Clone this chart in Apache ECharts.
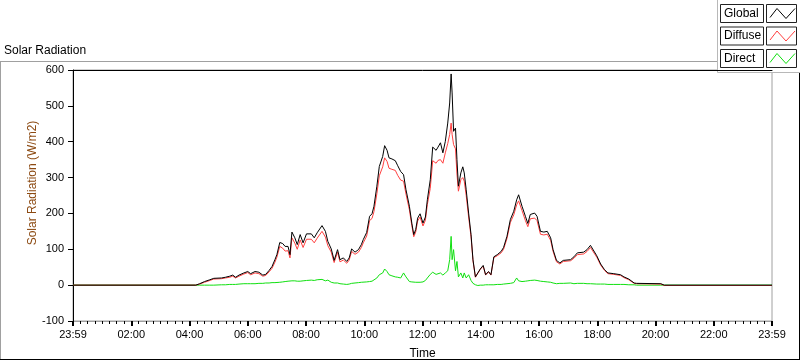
<!DOCTYPE html>
<html>
<head>
    <meta charset="utf-8">
    <style>
        body{
            margin:0;
            padding:0;
            background:#fff;
        }
        #chart{
            width:800px;
            height:361px;
        }
    </style>
</head>
<body>
    <div id="chart"></div>
    <script src="https://cdn.jsdelivr.net/npm/echarts@6/dist/echarts.min.js"></script>
    <script>
        // minutes after midnight
        var times = [0, 253, 261, 271, 282, 290, 306, 314, 323, 329, 335, 342, 352, 360, 366, 375, 383, 391, 397, 404,
            410, 416, 420, 426, 432, 437, 443, 447, 451, 457, 462, 468, 474, 481, 491, 497, 503, 513, 516, 520,
            525, 532, 538, 545, 550, 557, 564, 569, 574, 581, 588, 594, 598, 605, 611, 616, 620, 626, 631, 638,
            642, 647, 651, 657, 664, 669, 675, 681, 686, 693, 698, 702, 706, 710, 715, 721, 726, 730, 736, 741,
            745, 748, 752, 757, 762, 767, 772, 776, 779, 781, 784, 788, 791, 794, 799, 803, 806, 810, 815, 820,
            824, 829, 834, 839, 845, 850, 856, 861, 867, 874, 882, 887, 894, 901, 908, 914, 918, 925, 932, 937,
            942, 951, 956, 963, 970, 977, 984, 989, 996, 1003, 1010, 1025, 1032, 1039, 1052, 1059, 1066, 1070, 1079, 1087,
            1095, 1102, 1114, 1128, 1135, 1145, 1156, 1161, 1211, 1218, 1440];
        var globalVals = [0, 0, 4, 10, 15, 19, 20, 22, 25, 28, 22, 28, 34, 38, 32, 38, 36, 28, 30, 41,
            52, 71, 85, 119, 116, 108, 108, 85, 148, 132, 113, 141, 118, 143, 143, 132, 146, 166, 171, 150,
            122, 101, 69, 99, 71, 76, 66, 76, 101, 92, 99, 113, 127, 147, 192, 199, 220, 276, 331, 359,
            389, 376, 355, 352, 347, 333, 317, 308, 266, 220, 173, 141, 155, 187, 199, 173, 190, 238, 294, 385,
            389, 376, 385, 397, 369, 401, 452, 508, 589, 536, 429, 438, 350, 276, 313, 330, 313, 266, 201, 141,
            71, 23, 34, 45, 55, 29, 38, 29, 79, 85, 94, 105, 136, 183, 206, 238, 252, 220, 192, 172,
            197, 201, 192, 150, 148, 150, 132, 99, 69, 62, 69, 71, 79, 90, 92, 99, 111, 110, 82, 59,
            43, 34, 32, 29, 23, 17, 6, 5, 4, 0, 0];
        var diffuseVals = [0, 0, 3, 8, 13, 17, 18, 20, 22, 25, 20, 25, 31, 35, 29, 34, 32, 25, 27, 37,
            47, 64, 78, 108, 103, 95, 96, 76, 132, 117, 100, 126, 105, 128, 128, 118, 131, 150, 155, 134,
            110, 92, 63, 92, 65, 70, 61, 70, 94, 86, 92, 105, 118, 137, 180, 186, 205, 255, 305, 330,
            355, 345, 326, 323, 320, 306, 293, 290, 254, 210, 166, 135, 148, 179, 190, 165, 181, 225, 270, 347,
            350, 340, 348, 350, 340, 369, 395, 420, 452, 420, 392, 380, 310, 262, 294, 300, 290, 250, 190, 135,
            68, 22, 33, 44, 53, 28, 37, 28, 77, 82, 90, 100, 130, 175, 196, 224, 235, 208, 180, 163,
            185, 187, 180, 142, 140, 142, 125, 94, 65, 59, 66, 68, 75, 85, 87, 94, 105, 104, 78, 56,
            41, 32, 30, 27, 21, 15, 5, 4, 3, -1, -1];
        var directVals = [0, 0, 0, 0, 0, 0, 1, 1, 2, 2, 2, 3, 4, 4, 4, 4, 5, 5, 6, 6,
            7, 7, 8, 8, 9, 10, 11, 10, 12, 12, 11, 11, 12, 13, 14, 13, 15, 16, 18, 12,
            14, 8, 6, 6, 4, 3, 2, 3, 5, 6, 7, 8, 9, 9, 10, 11, 13, 20, 29, 34,
            45, 38, 29, 26, 23, 22, 20, 34, 23, 10, 9, 8, 8, 8, 8, 9, 13, 20, 30, 36,
            34, 30, 32, 34, 28, 34, 40, 71, 136, 71, 99, 40, 66, 23, 34, 20, 34, 20, 29, 13,
            5, 1, -1, 0, 0, 1, 1, 1, 1, 2, 2, 3, 4, 5, 7, 20, 12, 10, 11, 12,
            13, 14, 13, 11, 10, 9, 8, 6, 4, 5, 5, 6, 4, 5, 5, 4, 4, 4, 3, 3,
            3, 2, 2, 2, 2, 1, 1, 0, 0, 0, 0];
        var seriesNames = ['Global', 'Diffuse', 'Direct'];
        var seriesColors = ['#000000', '#ff4040', '#10e010'];
    </script>
    <script>
        var chart = echarts.init(document.getElementById('chart'), null, {renderer: 'canvas'});
        var font = "'Liberation Sans', Arial, sans-serif";

        function pairs(vals){
            var out = [];
            for (var i = 0; i < times.length; i++) {
                out.push([times[i], vals[i]]);
            }
            return out;
        }

        function hhmm(v){
            if (v === 0 || v === 1440) return '23:59';
            var h = Math.floor(v / 60);
            return (h < 10 ? '0' : '') + h + ':00';
        }

        // legend box drawn like the LabVIEW plot legend
        var legendItems = [];
        for (var k = 0; k < seriesNames.length; k++) {
            var y0 = 4.5 + k * 22.5;
            legendItems.push({
                type: 'rect',
                shape: {x: 720.5, y: y0, width: 43, height: 18},
                style: {fill: '#fff', stroke: '#222', lineWidth: 1}
            });
            legendItems.push({
                type: 'text',
                style: {x: 724, y: y0 + 9, text: seriesNames[k], font: '12px ' + font,
                    fill: '#000', verticalAlign: 'middle'}
            });
            legendItems.push({
                type: 'rect',
                shape: {x: 766.5, y: y0, width: 30, height: 18},
                style: {fill: '#fff', stroke: '#222', lineWidth: 1}
            });
            legendItems.push({
                type: 'polyline',
                shape: {points: [[770, y0 + 13], [777, y0 + 4], [786, y0 + 14], [795, y0 + 4]]},
                style: {stroke: seriesColors[k], lineWidth: 1, fill: null}
            });
        }

        var option = {
            animation: false,
            backgroundColor: '#fff',
            title: {
                text: 'Solar Radiation',
                left: 4,
                top: 45,
                padding: 0,
                textStyle: {fontSize: 12, fontWeight: 'normal', color: '#000', fontFamily: font}
            },
            grid: {
                left: 73,
                right: 28,
                top: 70,
                bottom: 40,
                outerBoundsMode: 'none',
                containLabel: false,
                show: true,
                borderColor: '#a0a0a0',
                borderWidth: 1,
                backgroundColor: '#fff'
            },
            xAxis: [{
                type: 'value',
                min: 0,
                max: 1440,
                interval: 120,
                name: 'Time',
                nameLocation: 'middle',
                nameGap: 27,
                nameTextStyle: {fontSize: 12, color: '#000', fontFamily: font},
                axisLine: {show: true, onZero: false, lineStyle: {color: '#a0a0a0'}},
                axisTick: {show: true, length: 5, lineStyle: {color: '#000', width: 2}},
                minorTick: {show: true, splitNumber: 8, length: 3, lineStyle: {color: '#000'}},
                axisLabel: {
                    fontSize: 11, color: '#000', fontFamily: font, margin: 8,
                    formatter: hhmm
                },
                splitLine: {show: false}
            }, {
                type: 'value',
                position: 'top',
                min: 0,
                max: 1440,
                axisLine: {show: true, onZero: false, lineStyle: {color: '#000'}},
                axisTick: {show: false},
                axisLabel: {show: false},
                splitLine: {show: false}
            }],
            yAxis: {
                type: 'value',
                min: -100,
                max: 600,
                interval: 100,
                axisLine: {show: true, onZero: false, lineStyle: {color: '#000'}},
                axisTick: {show: true, length: 5, lineStyle: {color: '#000'}},
                axisLabel: {fontSize: 11, color: '#000', fontFamily: font, margin: 9},
                splitLine: {show: false}
            },
            graphic: [
                {type: 'line', shape: {x1: 0, y1: 61.5, x2: 720, y2: 61.5}, style: {stroke: '#a0a0a0'}},
                {type: 'line', shape: {x1: 0.5, y1: 61.5, x2: 0.5, y2: 360}, style: {stroke: '#a0a0a0'}},
                {type: 'line', shape: {x1: 0, y1: 359.5, x2: 800, y2: 359.5}, style: {stroke: '#000'}},
                {type: 'line', shape: {x1: 799.5, y1: 72, x2: 799.5, y2: 360}, style: {stroke: '#000'}},
                {
                    type: 'text',
                    x: 33, y: 183,
                    rotation: Math.PI / 2,
                    style: {text: 'Solar Radiation (W/m2)', font: '12px ' + font, fill: '#8c4a12',
                        align: 'center', verticalAlign: 'middle'}
                },
                {
                    type: 'group',
                    z: 100,
                    children: [{
                        type: 'rect',
                        shape: {x: 717.5, y: -1, width: 83, height: 73.5},
                        style: {fill: '#fff', stroke: '#b8b8b8', lineWidth: 1}
                    }].concat(legendItems)
                }
            ],
            series: [
                {name: 'Direct', type: 'line', data: pairs(directVals), showSymbol: false, silent: true,
                    lineStyle: {color: seriesColors[2], width: 1}, z: 2},
                {name: 'Diffuse', type: 'line', data: pairs(diffuseVals), showSymbol: false, silent: true,
                    lineStyle: {color: seriesColors[1], width: 1}, z: 3},
                {name: 'Global', type: 'line', data: pairs(globalVals), showSymbol: false, silent: true,
                    lineStyle: {color: seriesColors[0], width: 1}, z: 4}
            ]
        };

        chart.setOption(option);
    </script>
</body>
</html>
